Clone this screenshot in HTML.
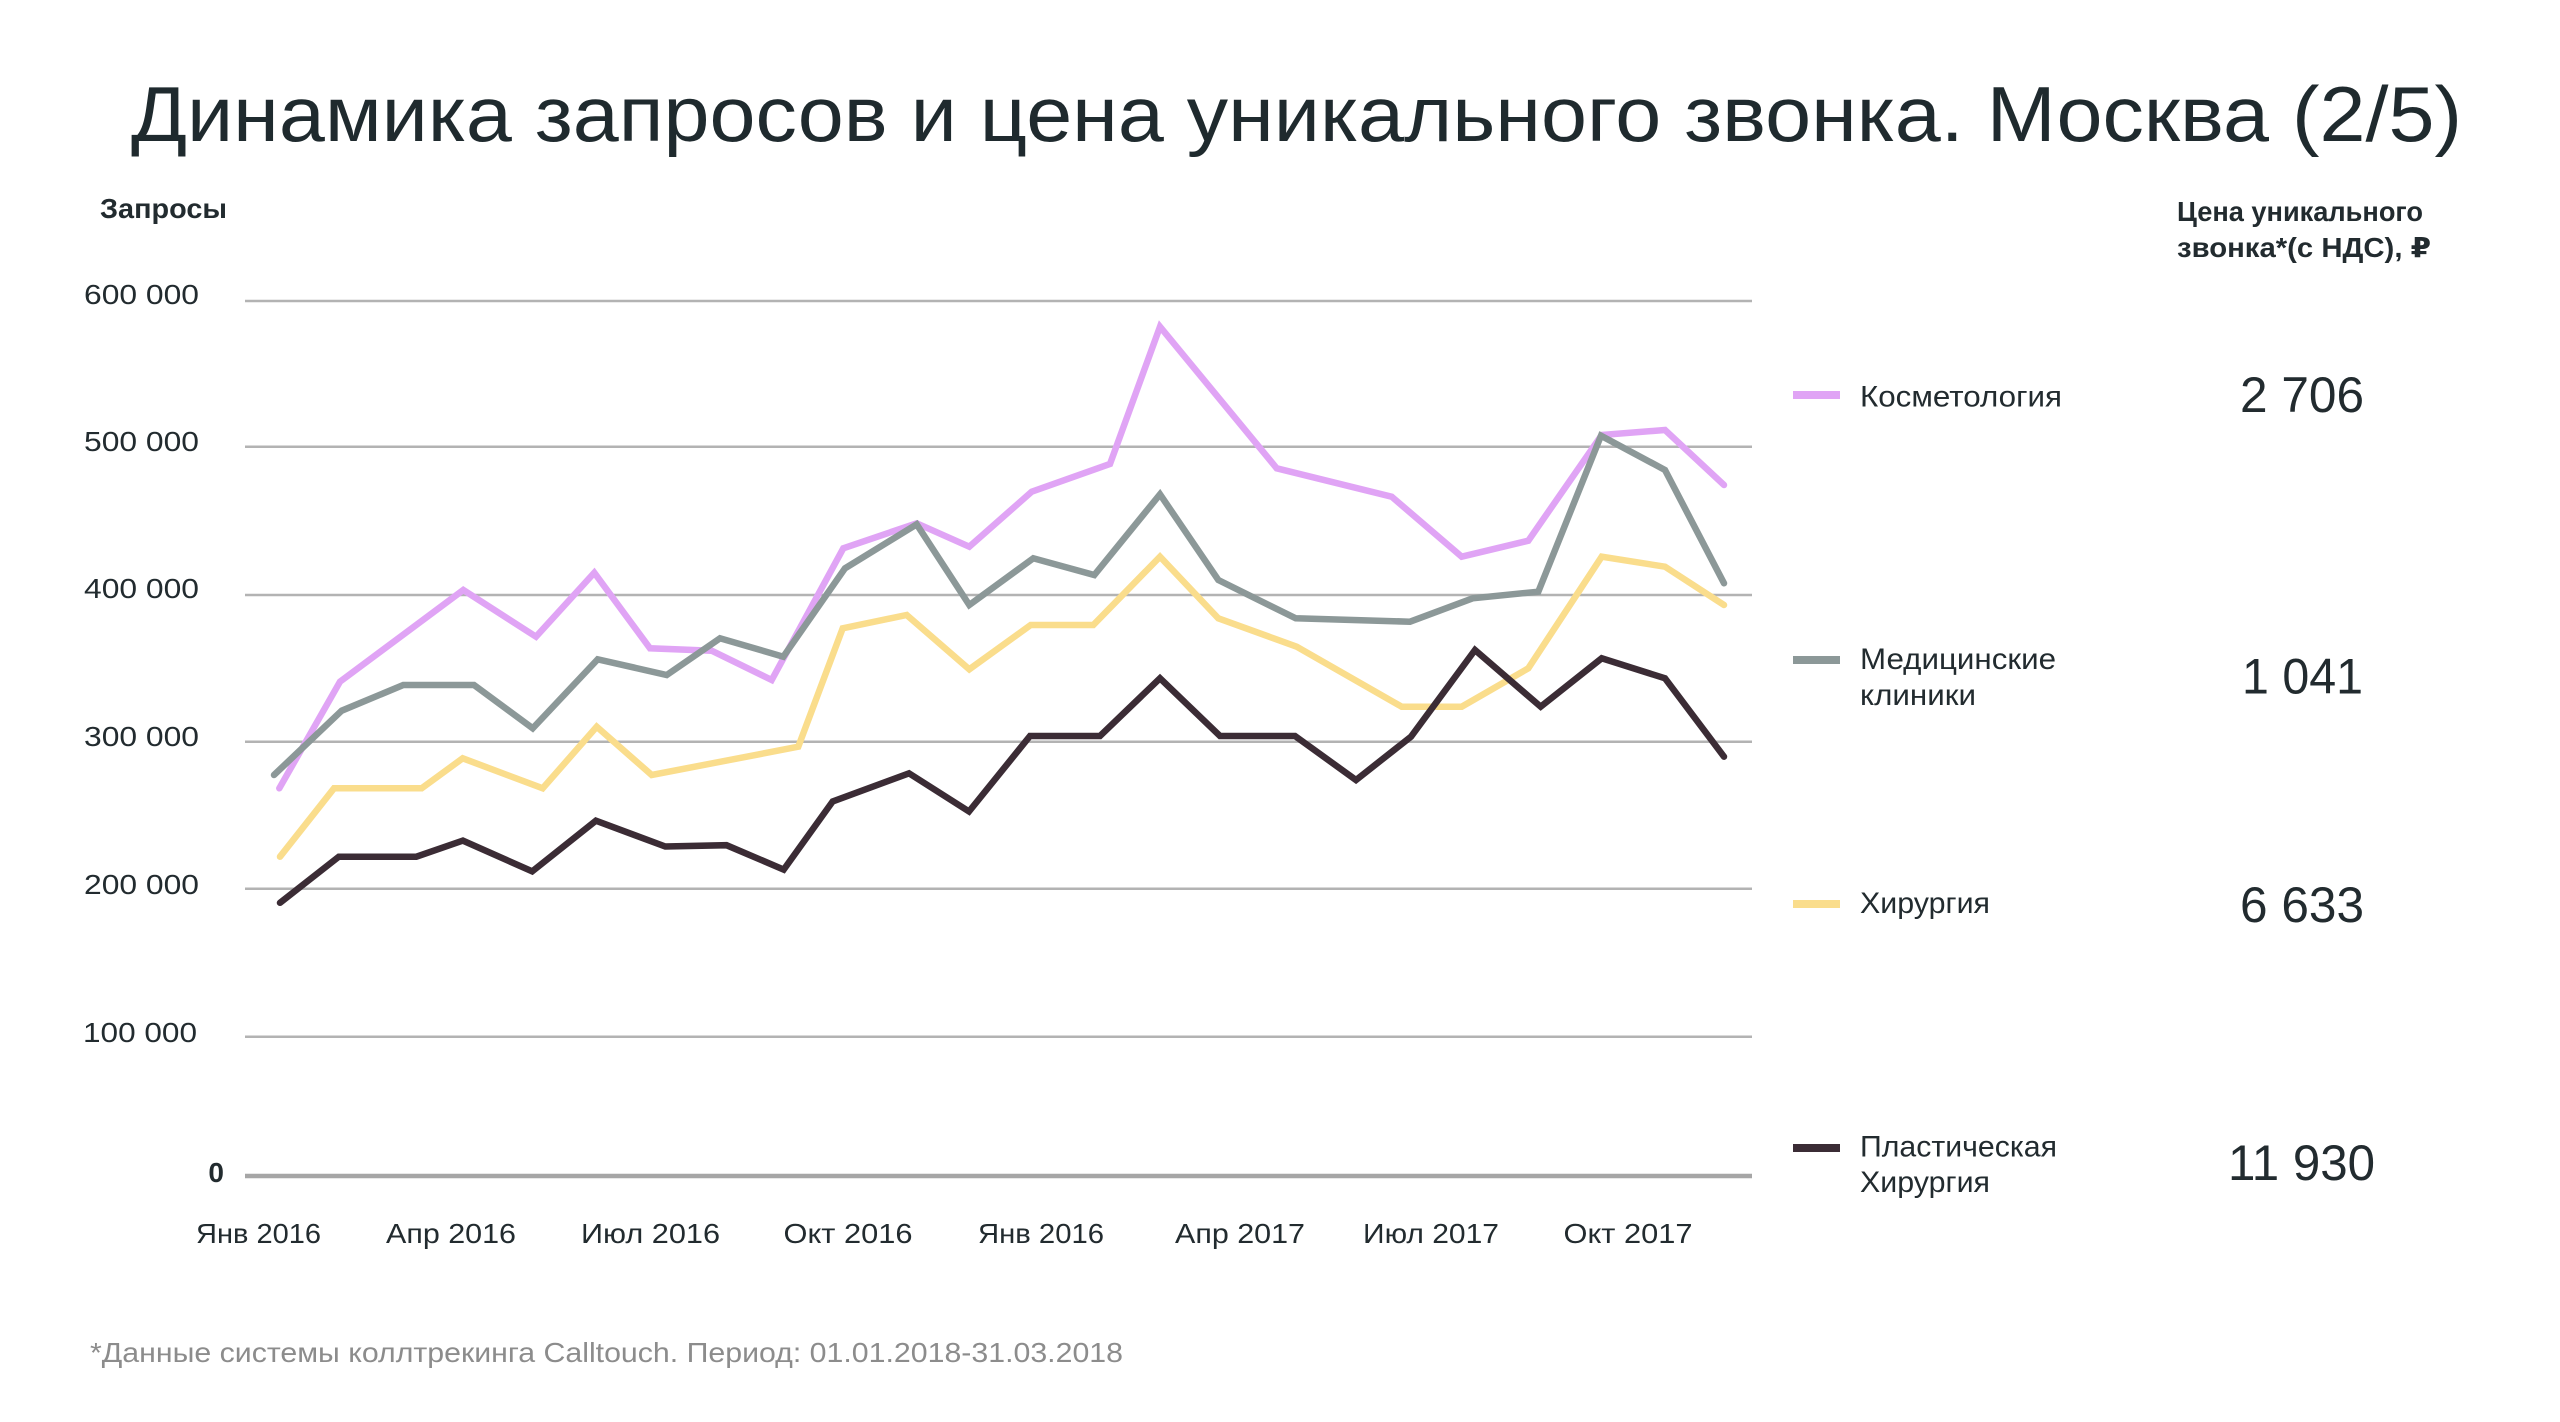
<!DOCTYPE html>
<html>
<head>
<meta charset="utf-8">
<style>
html,body{margin:0;padding:0;background:#fff;overflow:hidden;}
svg{display:block;}
text{font-family:"Liberation Sans","DejaVu Sans",sans-serif;}
</style>
</head>
<body>
<svg width="2560" height="1422" viewBox="0 0 2560 1422" xmlns="http://www.w3.org/2000/svg">
<rect x="0" y="0" width="2560" height="1422" fill="#ffffff"/>

<!-- Title -->
<text x="131" y="141" font-size="78" fill="#1f2a2e" textLength="2331" lengthAdjust="spacingAndGlyphs">Динамика запросов и цена уникального звонка. Москва (2/5)</text>

<!-- Y axis title -->
<text x="100" y="218" font-size="28" font-weight="bold" fill="#222b2f" textLength="127" lengthAdjust="spacingAndGlyphs">Запросы</text>

<!-- Gridlines -->
<g stroke="#b3b3b3" stroke-width="2.5">
<line x1="245" y1="301" x2="1752" y2="301"/>
<line x1="245" y1="446.7" x2="1752" y2="446.7"/>
<line x1="245" y1="595" x2="1752" y2="595"/>
<line x1="245" y1="741.7" x2="1752" y2="741.7"/>
<line x1="245" y1="888.7" x2="1752" y2="888.7"/>
<line x1="245" y1="1036.7" x2="1752" y2="1036.7"/>
</g>
<line x1="245" y1="1176" x2="1752" y2="1176" stroke="#a6a6a6" stroke-width="4.5"/>

<!-- Y labels -->
<g font-size="28" fill="#222b2f" text-anchor="end">
<text x="199" y="304" textLength="115" lengthAdjust="spacingAndGlyphs">600 000</text>
<text x="199" y="451" textLength="115" lengthAdjust="spacingAndGlyphs">500 000</text>
<text x="199" y="598" textLength="115" lengthAdjust="spacingAndGlyphs">400 000</text>
<text x="199" y="746" textLength="115" lengthAdjust="spacingAndGlyphs">300 000</text>
<text x="199" y="894" textLength="115" lengthAdjust="spacingAndGlyphs">200 000</text>
<text x="197" y="1042" textLength="114" lengthAdjust="spacingAndGlyphs">100 000</text>
<text x="224" y="1182" font-weight="bold">0</text>
</g>

<!-- X labels -->
<g font-size="28" fill="#222b2f" text-anchor="middle">
<text x="258.5" y="1243" textLength="125" lengthAdjust="spacingAndGlyphs">Янв 2016</text>
<text x="451" y="1243" textLength="130" lengthAdjust="spacingAndGlyphs">Апр 2016</text>
<text x="650.5" y="1243" textLength="139" lengthAdjust="spacingAndGlyphs">Июл 2016</text>
<text x="848" y="1243" textLength="129" lengthAdjust="spacingAndGlyphs">Окт 2016</text>
<text x="1041" y="1243" textLength="126" lengthAdjust="spacingAndGlyphs">Янв 2016</text>
<text x="1240" y="1243" textLength="130" lengthAdjust="spacingAndGlyphs">Апр 2017</text>
<text x="1431" y="1243" textLength="136" lengthAdjust="spacingAndGlyphs">Июл 2017</text>
<text x="1628" y="1243" textLength="129" lengthAdjust="spacingAndGlyphs">Окт 2017</text>
</g>

<!-- Series -->
<g fill="none" stroke-width="6.5" stroke-linejoin="miter" stroke-miterlimit="6" stroke-linecap="round">
<polyline stroke="#fadd8c" points="280,856.7 334,788.3 421.7,788.3 462.7,758.3 542.7,788.3 596.7,726.7 651.7,775 798.3,746.7 842.7,628.3 906.7,615 969.3,669.3 1030.7,625 1093.3,625 1160,556.7 1218.3,618.3 1296.7,646.7 1401.7,706.7 1461.7,706.7 1528.3,668.3 1601.7,556.7 1665,566.7 1724,605"/>
<polyline stroke="#e0a4f5" points="279.3,788.3 340,681.7 463.3,590 536,636.7 594.3,572.7 650,648.3 711.7,650.7 771.7,680 843.3,548.3 916.7,523.3 969.3,546.7 1031.7,491.7 1110,464 1160,326.7 1276.7,468.3 1391.7,496.7 1461.7,556.7 1528.3,540.7 1601.7,435 1665,430 1724,485"/>
<polyline stroke="#8c9898" points="274,775 341.7,710.7 403.3,685 474,685 532.7,728.3 597.7,659.3 666.7,675 720,638.3 783.3,656.7 845,568.3 916.7,524.3 969.3,605 1033.3,558.3 1094.3,575 1160,494.3 1218.3,580 1295.7,618.3 1410,621.7 1472.7,598.3 1538.3,591.7 1601,435.7 1665,470 1724,583.3"/>
<polyline stroke="#3b2c35" points="280,902.8 338.8,856.7 416.3,856.7 462.9,840.6 532.2,871.4 595.9,820.7 665.3,846.5 726.5,845.2 783.7,869.6 832.7,801.4 909,773.3 969,811.5 1030,736 1100,736 1160,678.3 1220,736 1295,736 1356,780 1411,736.7 1475,650 1540.7,706.7 1601.7,658.3 1665,678.3 1724,756.7"/>
</g>

<!-- Right header -->
<g font-size="28" font-weight="bold" fill="#222b2f">
<text x="2177" y="221" textLength="246" lengthAdjust="spacingAndGlyphs">Цена уникального</text>
<text x="2177" y="257" textLength="254" lengthAdjust="spacingAndGlyphs">звонка*(с НДС), ₽</text>
</g>

<!-- Legend swatches -->
<rect x="1793" y="391" width="47" height="8" fill="#e0a4f5"/>
<rect x="1793" y="656" width="47" height="8" fill="#8c9898"/>
<rect x="1793" y="900" width="47" height="8" fill="#fadd8c"/>
<rect x="1793" y="1144" width="47" height="8" fill="#3b2c35"/>

<!-- Legend labels -->
<g font-size="30" fill="#222b2f">
<text x="1860" y="406.5" textLength="202" lengthAdjust="spacingAndGlyphs">Косметология</text>
<text x="1860" y="669" textLength="196" lengthAdjust="spacingAndGlyphs">Медицинские</text>
<text x="1860" y="705" textLength="116" lengthAdjust="spacingAndGlyphs">клиники</text>
<text x="1860" y="913" textLength="130" lengthAdjust="spacingAndGlyphs">Хирургия</text>
<text x="1860" y="1156.5" textLength="197" lengthAdjust="spacingAndGlyphs">Пластическая</text>
<text x="1860" y="1192" textLength="130" lengthAdjust="spacingAndGlyphs">Хирургия</text>
</g>

<!-- Values -->
<g font-size="50" fill="#222b2f">
<text x="2240" y="412" textLength="124" lengthAdjust="spacingAndGlyphs">2 706</text>
<text x="2242" y="693.5" textLength="121" lengthAdjust="spacingAndGlyphs">1 041</text>
<text x="2240" y="922" textLength="124" lengthAdjust="spacingAndGlyphs">6 633</text>
<text x="2228" y="1180" textLength="147" lengthAdjust="spacingAndGlyphs">11 930</text>
</g>

<!-- Footnote -->
<text x="90" y="1362" font-size="28" fill="#8c8c8c" textLength="1033" lengthAdjust="spacingAndGlyphs">*Данные системы коллтрекинга Calltouch. Период: 01.01.2018-31.03.2018</text>
</svg>
</body>
</html>
